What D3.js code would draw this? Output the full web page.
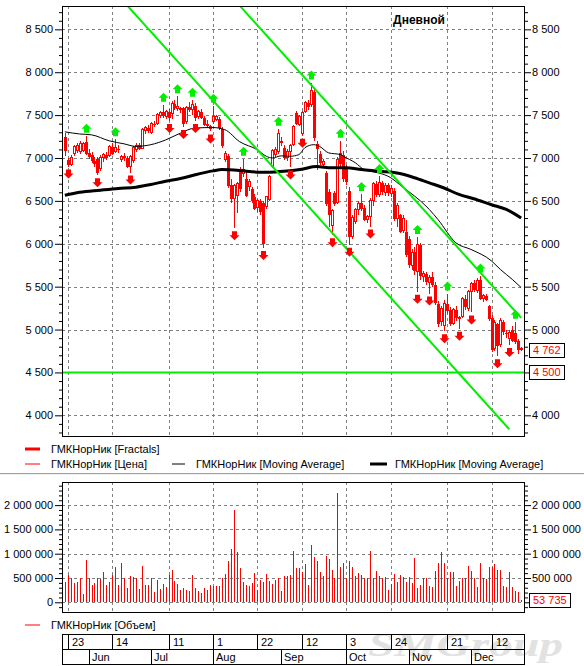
<!DOCTYPE html>
<html>
<head>
<meta charset="utf-8">
<script src="https://cdn.jsdelivr.net/npm/d3@7"></script>
<style>
  body { margin: 0; background: #fff; }
  svg { display: block; }
</style>
</head>
<body>
<svg id="chart" width="584" height="666"></svg>
<script>
// --- data -----------------------------------------------------------------
const firstDay = "2011-05-20";
const lastDay = "2011-12-26";
const holidays = ["2011-06-13", "2011-11-04"];

const opens = [7250,6980,6930,7050,7090,7080,7090,7190,7060,7040, 6970,6990,6880,7000,7030,7030,7130,7080,7110,6980,
  7020,7000,6900,6970,7100,7150,7110,7320,7350,7300, 7400,7400,7500,7540,7480,7540,7520,7630,7580,7560,
  7580,7420,7590,7560,7610,7480,7540,7470,7400,7370, 7420,7450,7460,7340,6980,7020,6680,6530,6560,6860,
  6820,6760,6670,6640,6550,6420,6500,6470,6440,6520, 6900,7040,7080,7200,7120,7000,7070,7160,7520,7390,
  7290,7540,7640,7620,7770,7160,7050,6920,6820,6600, 6210,6590,6480,7060,7030,6880,6620,6090,6260,6400,
  6470,6420,6280,6320,6500,6700,6570,6710,6600,6680, 6590,6620,6290,6330,6150,6140,6050,5750,5900,5680,
  5990,5620,5650,5550,5610,5520,5300,5090,5050,5300, 5230,5070,5230,5130,5150,5360,5250,5440,5540,5460,
  5580,5360,5390,5270,5140,4780,5060,4820,5090,4960, 4890,4990,4960,4870,4780];
const highs = [7290,7000,7030,7150,7170,7200,7190,7260,7100,7070, 7010,7010,7030,7060,7070,7150,7180,7220,7150,7040,
  7060,7020,7040,7140,7170,7170,7350,7370,7380,7420, 7430,7530,7550,7620,7560,7570,7660,7680,7720,7600,
  7600,7610,7650,7680,7640,7560,7570,7490,7440,7390, 7610,7500,7480,7360,7080,7050,6760,6700,6720,6900,
  6990,6860,6760,6660,6580,6520,6520,6500,6560,6800, 7110,7130,7340,7240,7150,7100,7160,7380,7550,7500,
  7550,7670,7680,7880,7800,7200,7080,6990,6850,6640, 6410,6620,7010,7200,7080,6920,6660,6330,6420,6500,
  6580,6450,6340,6530,6720,6730,6790,6730,6710,6710, 6690,6650,6480,6350,6330,6280,6090,5940,5960,6080,
  6010,5680,5670,5640,5670,5560,5330,5270,5340,5420, 5260,5250,5280,5160,5380,5400,5460,5560,5580,5600,
  5630,5420,5410,5290,5170,5110,5080,5130,5110,5000, 5000,5040,5090,4890,4800];
const lows = [7020,6900,6910,7020,7060,7050,7070,7030,6990,6940, 6900,6800,6850,6950,6980,7010,7030,7060,7060,6950,
  6970,6880,6830,6940,7070,7090,7100,7280,7290,7280, 7360,7390,7470,7470,7450,7430,7460,7560,7550,7530,
  7360,7400,7540,7500,7430,7460,7450,7370,7350,7310, 7400,7430,7330,7120,6950,6650,6480,6180,6360,6600,
  6780,6540,6620,6480,6390,6370,6340,5950,6400,6500, 6880,7010,7050,7140,6980,6960,6890,7140,7380,7370,
  7260,7520,7560,7600,7200,6860,6920,6880,6440,6200, 6100,6440,6460,6900,6720,6690,5990,6050,6230,6340,
  6380,6260,6240,6200,6440,6540,6540,6570,6560,6560, 6540,6260,6200,6120,6130,5850,5720,5690,5640,5440,
  5580,5550,5520,5420,5500,5290,5030,5040,4980,5180, 5040,5050,5100,5010,5130,5230,5220,5200,5440,5430,
  5340,5320,5330,5100,4740,4750,4690,4800,4940,4900, 4820,4850,4830,4720,4750];
const closes = [7080,6920,7010,7130,7140,7170,7170,7050,7010,6960, 6930,6830,7010,7040,7000,7130,7050,7120,7090,7020,
  7000,6900,7020,7120,7150,7110,7330,7350,7310,7400, 7390,7510,7530,7490,7540,7470,7640,7580,7600,7580,
  7400,7590,7560,7620,7470,7540,7470,7390,7370,7340, 7480,7480,7350,7140,7050,6670,6520,6680,6700,6640,
  6870,6560,6730,6500,6410,6500,6370,6000,6550,6780, 7090,7100,7290,7180,7000,7080,7140,7370,7400,7480,
  7530,7650,7600,7790,7230,7100,6940,6960,6460,6330, 6390,6460,6980,6930,6760,6720,6080,6310,6400,6470,
  6410,6280,6320,6510,6700,6570,6720,6600,6680,6590, 6650,6290,6450,6140,6300,5870,5750,5900,5680,5990,
  5620,5650,5550,5610,5520,5310,5060,5240,5300,5220, 5060,5230,5130,5140,5360,5260,5440,5540,5460,5570,
  5360,5400,5350,5120,4760,5080,4810,5100,4970,4950, 4960,4870,4850,4760,4762];
const volumes = [424000,562000,494000,391000,424000,494000,171000,870000,494000,356000,
  391000,494000,473000,630000,356000,424000,562000,733000,356000,802000,
  494000,288000,541000,527000,494000,267000,747000,356000,356000,494000,
  206000,459000,274000,377000,321000,562000,665000,438000,377000,253000,
  288000,253000,233000,562000,288000,233000,198000,288000,253000,356000,
  342000,335000,342000,494000,583000,850000,1097000,1900000,1029000,712000,
  411000,356000,342000,404000,597000,253000,459000,424000,576000,438000,
  377000,459000,507000,233000,541000,541000,562000,1056000,712000,712000,
  630000,788000,356000,1180000,940000,850000,630000,548000,953000,891000,
  665000,494000,2242000,733000,816000,507000,850000,733000,548000,597000,
  562000,494000,494000,1056000,494000,644000,548000,507000,527000,253000,
  370000,583000,424000,562000,514000,424000,527000,391000,918000,301000,
  356000,494000,494000,335000,321000,644000,816000,1029000,816000,494000,
  617000,630000,335000,445000,494000,494000,747000,644000,494000,321000,
  816000,494000,473000,733000,733000,781000,665000,665000,342000,308000,
  630000,321000,233000,220000,53735];

// bar indices carrying a fractal mark
const fractalUp = [7,17,33,38,43,50,60,72,83,93,100,106,119,129,140,152];
const fractalDown = [1,11,22,35,40,44,49,57,67,76,80,90,96,103,119,123,128,133,137,146,150];

// moving averages: [bar index, value]
const maFast = [[0,7305],[5,7280],[9,7270],[15,7200],[20,7165],[24,7135],[29,7155],[34,7210],[39,7290],
  [44,7350],[50,7355],[54,7330],[59,7190],[65,7095],[68,7020],[70,7000],[73,7025],[76,7020],[79,7040],
  [81,7120],[84,7155],[86,7135],[89,7060],[93,7040],[94,7020],[98,6945],[101,6865],[103,6845],[106,6825],
  [110,6770],[113,6690],[116,6610],[120,6500],[123,6400],[126,6280],[132,6010],[137,5935],[144,5800],
  [147,5700],[151,5585],[154,5490]];
const maSlow = [[0,6565],[5,6600],[12,6625],[18,6645],[24,6660],[29,6690],[34,6730],[39,6760],[44,6805],
  [50,6850],[53,6865],[59,6855],[65,6835],[69,6835],[74,6845],[80,6870],[85,6900],[90,6885],[95,6885],
  [100,6865],[106,6845],[113,6820],[118,6770],[123,6710],[128,6650],[133,6575],[138,6525],[144,6455],
  [149,6400],[154,6300]];

// trend channel and support level
const channelLow = [[21,8780],[150,3838]];
const channelHigh = [[59,8776],[154,5137]];
const supportLevel = 4500;

const priceTicks = [4000,4500,5000,5500,6000,6500,7000,7500,8000,8500];
const volumeTicks = [0,500000,1000000,1500000,2000000];
const gridDays = ["2011-05-23","2011-06-14","2011-07-11","2011-08-01","2011-08-22",
  "2011-09-12","2011-10-03","2011-10-24","2011-11-21","2011-12-12"];
const gridLabels = ["23","14","11","1","22","12","3","24","21","12"];
const monthDays = ["2011-06-01","2011-07-01","2011-08-01","2011-09-01","2011-10-03","2011-11-01","2011-12-01"];
const monthLabels = ["Jun","Jul","Aug","Sep","Oct","Nov","Dec"];

const seriesName = "ГМКНорНик";

// --- layout ---------------------------------------------------------------
const FONT = "'Liberation Sans', Arial, sans-serif";
const RED = "#ff0000";
const GREEN = "#00ee00";
const left = 62, right = 524;
const price = {top: 6, bottom: 436};
const vol = {top: 481.5, bottom: 612};

const dayKey = d3.utcFormat("%Y-%m-%d");
const days = d3.utcDay.range(new Date(firstDay), d3.utcDay.offset(new Date(lastDay), 1))
  .filter(d => d.getUTCDay() !== 0 && d.getUTCDay() !== 6 && !holidays.includes(dayKey(d)))
  .map(dayKey);

const x = d3.scalePoint().domain(days).range([left, right]).padding(0.96);
const xi = i => x(days[i]);
const yP = d3.scaleLinear().domain([3759, 8772]).range([price.bottom, price.top]);
const yV = d3.scaleLinear().domain([-200000, 2486000]).range([vol.bottom, vol.top]);

const fmt = v => d3.format(",")(v).replace(/,/g, " ");

const svg = d3.select("#chart")
  .attr("font-family", FONT)
  .attr("font-size", 11);

svg.append("rect").attr("width", 584).attr("height", 666).attr("fill", "#fff");

svg.append("defs").append("clipPath").attr("id", "clipPrice")
  .append("rect")
  .attr("x", left).attr("y", price.top)
  .attr("width", right - left).attr("height", price.bottom - price.top);

// grid lines in both panels
function grid(panel, yScale, ticks) {
  const g = svg.append("g")
    .attr("stroke", "#808080")
    .attr("stroke-dasharray", "3,3")
    .attr("shape-rendering", "crispEdges");
  g.selectAll(".h").data(ticks).join("line")
    .attr("x1", left).attr("x2", right)
    .attr("y1", d => Math.round(yScale(d)) + 0.5)
    .attr("y2", d => Math.round(yScale(d)) + 0.5);
  g.selectAll(".v").data(gridDays).join("line")
    .attr("x1", d => Math.round(x(d)) + 0.5).attr("x2", d => Math.round(x(d)) + 0.5)
    .attr("y1", panel.top).attr("y2", panel.bottom);
}
grid(price, yP, priceTicks);
grid(vol, yV, volumeTicks);

// axes
function axes(yScale, majors, minors, panel) {
  const styleAxis = g => {
    g.select(".domain").remove();
    g.attr("font-size", 11).attr("font-family", FONT);
    g.selectAll("text").attr("fill", "#000");
  };
  svg.append("g").attr("transform", `translate(${left},0)`)
    .call(d3.axisLeft(yScale).tickValues(majors).tickSize(7).tickPadding(2).tickFormat(fmt))
    .call(styleAxis);
  svg.append("g").attr("transform", `translate(${left},0)`)
    .call(d3.axisLeft(yScale).tickValues(minors).tickSize(3).tickFormat(""))
    .call(styleAxis);
  svg.append("g").attr("transform", `translate(${right},0)`)
    .call(d3.axisRight(yScale).tickValues(majors).tickSize(7).tickPadding(1).tickFormat(fmt))
    .call(styleAxis)
    .call(g => g.selectAll(".tick text").filter(d => d === majors[0] && panel === vol).remove());
  svg.append("g").attr("transform", `translate(${right},0)`)
    .call(d3.axisRight(yScale).tickValues(minors).tickSize(4).tickFormat(""))
    .call(styleAxis);
}
axes(yP, priceTicks, d3.range(3800, 8800, 100).filter(v => v % 500), price);
axes(yV, volumeTicks, d3.range(-100000, 2500000, 100000).filter(v => v % 500000), vol);
// the right-hand 4 500 label sits under the level box
svg.selectAll("g.tick text").filter(function (d) {
  return d === supportLevel && this.getAttribute("x") > 0;
}).remove();

// --- price panel ----------------------------------------------------------
const plot = svg.append("g").attr("clip-path", "url(#clipPrice)");

const bars = d3.range(days.length).map(i => ({
  i, o: opens[i], h: highs[i], l: lows[i], c: closes[i]
}));

const candles = plot.append("g").attr("shape-rendering", "crispEdges");
candles.selectAll("line").data(bars).join("line")
  .attr("x1", d => Math.round(xi(d.i)) + 0.5).attr("x2", d => Math.round(xi(d.i)) + 0.5)
  .attr("y1", d => yP(d.h)).attr("y2", d => yP(d.l))
  .attr("stroke", RED);
candles.selectAll("rect").data(bars).join("rect")
  .attr("x", d => d.c >= d.o ? Math.round(xi(d.i)) - 0.5 : Math.round(xi(d.i)) - 1)
  .attr("width", d => d.c >= d.o ? 2 : 3)
  .attr("y", d => yP(Math.max(d.o, d.c)))
  .attr("height", d => Math.max(1, Math.abs(yP(d.o) - yP(d.c))))
  .attr("fill", d => d.c >= d.o ? "#fff" : RED)
  .attr("stroke", d => d.c >= d.o ? RED : "none");

const line = d3.line().x(d => xi(d[0])).y(d => yP(d[1]));
const smooth = d3.line().x(d => xi(d[0])).y(d => yP(d[1])).curve(d3.curveMonotoneX);

plot.append("path").datum(maSlow).attr("d", smooth)
  .attr("fill", "none").attr("stroke", "#000").attr("stroke-width", 3);
plot.append("path").datum(maFast).attr("d", smooth)
  .attr("fill", "none").attr("stroke", "#000").attr("stroke-width", 1);

[channelLow, channelHigh].forEach(ch => {
  plot.append("path").datum(ch).attr("d", line)
    .attr("fill", "none").attr("stroke", GREEN).attr("stroke-width", 2);
});
plot.append("line")
  .attr("x1", left).attr("x2", right)
  .attr("y1", yP(supportLevel)).attr("y2", yP(supportLevel))
  .attr("stroke", GREEN).attr("stroke-width", 2);

// fractal arrows
const upArrow = "M0,0L5,5L2.5,5L2.5,9L-2.5,9L-2.5,5L-5,5Z";
const downArrow = "M0,0L5,-5L2.5,-5L2.5,-9L-2.5,-9L-2.5,-5L-5,-5Z";
plot.selectAll(".fu").data(fractalUp).join("path")
  .attr("transform", i => `translate(${Math.round(xi(i)) + 0.5},${yP(highs[i]) - 12})`)
  .attr("d", upArrow).attr("fill", GREEN);
plot.selectAll(".fd").data(fractalDown).join("path")
  .attr("transform", i => `translate(${Math.round(xi(i)) + 0.5},${yP(lows[i]) + 12})`)
  .attr("d", downArrow).attr("fill", RED);

// --- volume panel ---------------------------------------------------------
svg.append("g").attr("shape-rendering", "crispEdges")
  .selectAll("line").data(volumes).join("line")
  .attr("x1", (d, i) => Math.round(xi(i)) + 0.5).attr("x2", (d, i) => Math.round(xi(i)) + 0.5)
  .attr("y1", yV(0)).attr("y2", d => yV(d))
  .attr("stroke", RED);

// frames
[price, vol].forEach(p => {
  svg.append("rect")
    .attr("x", left + 0.5).attr("y", p.top + 0.5)
    .attr("width", right - left).attr("height", p.bottom - p.top)
    .attr("fill", "none").attr("stroke", "#000").attr("shape-rendering", "crispEdges");
});

svg.append("text")
  .attr("x", 419).attr("y", 24)
  .attr("text-anchor", "middle")
  .attr("font-weight", "bold").attr("font-size", 12)
  .text("Дневной");

// value boxes on the right axis
function valueBox(yPos, value) {
  const g = svg.append("g");
  const t = g.append("text")
    .attr("x", 533).attr("y", yPos + 4)
    .attr("fill", RED)
    .text(fmt(value));
  const w = t.node().getComputedTextLength();
  g.insert("rect", "text")
    .attr("x", 529.5).attr("y", Math.round(yPos) - 6.5)
    .attr("width", Math.round(w) + 7).attr("height", 14)
    .attr("fill", "#fff").attr("stroke", "#000").attr("shape-rendering", "crispEdges");
}
valueBox(yP(closes[closes.length - 1]), closes[closes.length - 1]);
valueBox(yP(supportLevel), supportLevel);
valueBox(yV(volumes[volumes.length - 1]), volumes[volumes.length - 1]);

// --- legends --------------------------------------------------------------
const legend = [
  {x: 25, y: 449, w: 15, color: RED, width: 3, label: `${seriesName} [Fractals]`},
  {x: 25, y: 464, w: 15, color: RED, width: 1, label: `${seriesName} [Цена]`},
  {x: 172, y: 464, w: 13, color: "#000", width: 1, label: `${seriesName} [Moving Average]`},
  {x: 370, y: 464, w: 17, color: "#000", width: 3, label: `${seriesName} [Moving Average]`},
  {x: 25, y: 625, w: 15, color: RED, width: 1, label: `${seriesName} [Объем]`}
];
legend.forEach(l => {
  svg.append("line")
    .attr("x1", l.x).attr("x2", l.x + l.w)
    .attr("y1", l.y).attr("y2", l.y)
    .attr("stroke", l.color).attr("stroke-width", l.width);
  svg.append("text")
    .attr("x", l.x + l.w + (l.x === 370 ? 8 : 11)).attr("y", l.y + 4)
    .text(l.label);
});

svg.append("line")
  .attr("x1", 0).attr("x2", 584).attr("y1", 473.5).attr("y2", 473.5)
  .attr("stroke", "#a0a0a0");
svg.append("line")
  .attr("x1", 0).attr("x2", 584).attr("y1", 474.5).attr("y2", 474.5)
  .attr("stroke", "#f0f0f0");

// --- date axis ------------------------------------------------------------
svg.append("text")
  .attr("x", 368).attr("y", 656)
  .attr("font-family", "'Liberation Serif', serif")
  .attr("font-weight", "bold").attr("font-style", "italic")
  .attr("font-size", 34)
  .attr("textLength", 195).attr("lengthAdjust", "spacingAndGlyphs")
  .attr("fill", "#e2e2e2")
  .text("SMGroup");

const dateAxis = svg.append("g")
  .attr("stroke", "#000").attr("shape-rendering", "crispEdges");
dateAxis.append("rect")
  .attr("x", left + 0.5).attr("y", 634.5)
  .attr("width", right - 0.5 - left).attr("height", 30)
  .attr("fill", "none");
dateAxis.append("line")
  .attr("x1", left).attr("x2", right).attr("y1", 649.5).attr("y2", 649.5);
dateAxis.selectAll(".g").data(gridDays).join("line")
  .attr("x1", d => Math.round(x(d)) + 0.5).attr("x2", d => Math.round(x(d)) + 0.5)
  .attr("y1", 634.5).attr("y2", 649.5);
dateAxis.selectAll(".m").data(monthDays).join("line")
  .attr("x1", d => Math.round(x(d)) + 0.5).attr("x2", d => Math.round(x(d)) + 0.5)
  .attr("y1", 649.5).attr("y2", 664.5);

svg.append("g").selectAll("text").data(gridDays).join("text")
  .attr("x", d => Math.round(x(d)) + 4).attr("y", 646)
  .text((d, i) => gridLabels[i]);
svg.append("g").selectAll("text").data(monthDays).join("text")
  .attr("x", d => Math.round(x(d)) + 3).attr("y", 661)
  .text((d, i) => monthLabels[i]);
</script>
</body>
</html>
